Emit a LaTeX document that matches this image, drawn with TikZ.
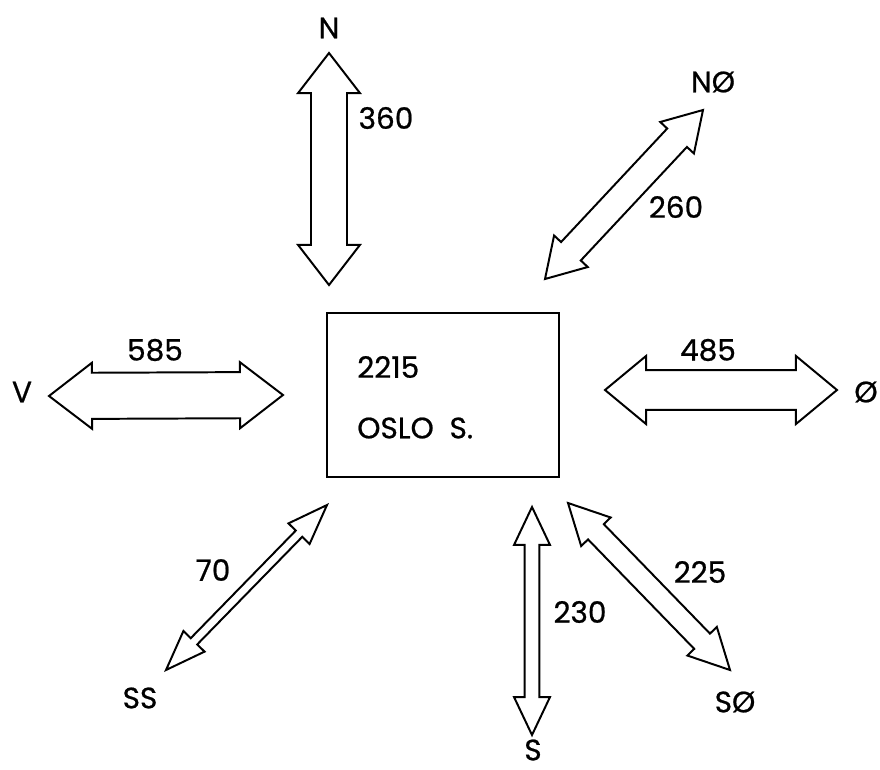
\documentclass[tikz,border=0pt]{standalone}
\usepackage{fontspec}
\setmainfont{Poppins}[FakeBold=0.7]
\usepackage{tikz}
\usetikzlibrary{
    calc,
    positioning
}
\tikzstyle{flow}=[
    draw=black,
    fill=white,
    line width=1.4pt,
    line join=miter
]
\tikzstyle{station}=[
    rectangle,
    draw=black,
    line width=1.4pt,
    minimum width=165pt,
    minimum height=116.7pt
]
% #1,#2 tips, #3 half shaft, #4 half head, #5 head length
\newcommand{\fatarrow}[5]{%
\draw[flow] let \p1=($(#2)-(#1)$), \n1={atan2(\y1,\x1)} in
    (#1) -- ($(#1)+(\n1:#5)+(\n1+90:#4)$)
    -- ($(#1)+(\n1:#5)+(\n1+90:#3)$)
    -- ($(#2)+(\n1+180:#5)+(\n1+90:#3)$)
    -- ($(#2)+(\n1+180:#5)+(\n1+90:#4)$)
    -- (#2)
    -- ($(#2)+(\n1+180:#5)+(\n1-90:#4)$)
    -- ($(#2)+(\n1+180:#5)+(\n1-90:#3)$)
    -- ($(#1)+(\n1:#5)+(\n1-90:#3)$)
    -- ($(#1)+(\n1:#5)+(\n1-90:#4)$)
    -- cycle;}

\begin{document}
\begin{tikzpicture}[
    x=0.025cm,y=-0.025cm,
    every node/.style={font=\fontsize{21}{25}\selectfont},
    dir/.style={inner sep=0pt},
    load/.style={inner sep=0pt}
]
\useasboundingbox (0,0) rectangle (880,769);
\node[station] (oslo) at (443,395) {};
\node[anchor=west,inner sep=0pt] (total) at (357,367) {2215};
\node[anchor=west,inner sep=0pt] (name) at (357,428) {OSLO\ \ S.};
% directions
\node[dir] (north) at (329,28) {N};
\node[dir] (northeast) at (713,82) {NØ};
\node[dir] (west) at (22,392) {V};
\node[dir] (east) at (866,392) {Ø};
\node[dir] (southsouth) at (140,698) {SS};
\node[dir] (south) at (533,750) {S};
\node[dir] (southeast) at (735,702) {SØ};
% arrow tips
\coordinate (n1) at (329,53);   \coordinate (n2) at (329,285);
\coordinate (ne1) at (545,279); \coordinate (ne2) at (703,110);
\coordinate (v1) at (49,396);   \coordinate (v2) at (283,395);
\coordinate (e1) at (605,390);  \coordinate (e2) at (837,390);
\coordinate (ss1) at (327,505); \coordinate (ss2) at (166,670);
\coordinate (s1) at (532,507);  \coordinate (s2) at (532,735);
\coordinate (se1) at (568,503); \coordinate (se2) at (730,670);
\fatarrow{n1}{n2}{12.8pt}{22pt}{28.5pt}
\fatarrow{ne1}{ne2}{9.6pt}{16.4pt}{27pt}
\fatarrow{v1}{v2}{16.4pt}{23.5pt}{30.6pt}
\fatarrow{e1}{e2}{14.2pt}{24.2pt}{29.2pt}
\fatarrow{ss1}{ss2}{3.2pt}{10.5pt}{28.5pt}
\fatarrow{s1}{s2}{5.3pt}{12.8pt}{27pt}
\fatarrow{se1}{se2}{7.8pt}{14.6pt}{28.5pt}
% traffic
\node[load] (nload) at (386,118) {360};
\node[load] (neload) at (676,207) {260};
\node[load] (vload) at (155,350) {585};
\node[load] (eload) at (708,350) {485};
\node[load] (ssload) at (213,570) {70};
\node[load] (sload) at (580,612) {230};
\node[load] (seload) at (700,572) {225};
\end{tikzpicture}
\end{document}
